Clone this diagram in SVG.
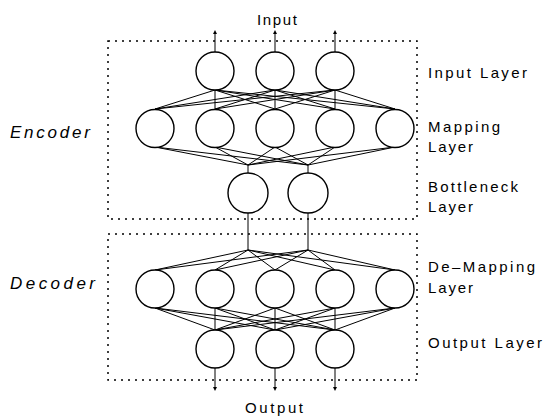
<svg xmlns="http://www.w3.org/2000/svg" width="546" height="416" viewBox="0 0 546 416">
<defs>
<marker id="ah" viewBox="0 0 6 6" refX="3" refY="3" markerWidth="4" markerHeight="4" orient="auto"><path d="M0,0 L6,3 L0,6 z" fill="#000"/></marker>
<style>
.n{fill:#fff;stroke:#000;stroke-width:1.4}
.c{stroke:#000;stroke-width:1;fill:none}
.box{fill:none;stroke:#000;stroke-width:1.5;stroke-dasharray:2 5}
.t{font-family:"Liberation Sans",Arial,sans-serif;font-size:15px;fill:#000}
.side{font-family:"Liberation Sans",Arial,sans-serif;font-size:17px;font-style:italic;fill:#000}
</style>
</defs>
<rect width="546" height="416" fill="#fff"/>
<g id="frames">
<rect class="box" x="108" y="41" width="309" height="178"/>
<rect class="box" x="108" y="234" width="309" height="146"/>
</g>
<g id="connectors">
<line class="c" x1="215" y1="52" x2="215" y2="32" marker-end="url(#ah)"/>
<line class="c" x1="275" y1="52" x2="275" y2="32" marker-end="url(#ah)"/>
<line class="c" x1="335" y1="52" x2="335" y2="32" marker-end="url(#ah)"/>
<path class="c" d="M215,90 L155,109 M215,90 L215,109 M215,90 L275,109 M215,90 L335,109 M215,90 L395,109
M275,90 L155,109 M275,90 L215,109 M275,90 L275,109 M275,90 L335,109 M275,90 L395,109
M335,90 L155,109 M335,90 L215,109 M335,90 L275,109 M335,90 L335,109 M335,90 L395,109"/>
<path class="c" d="M155,147 L248,165 M215,147 L248,165 M275,147 L248,165 M335,147 L248,165 M395,147 L248,165
M155,147 L308,165 M215,147 L308,165 M275,147 L308,165 M335,147 L308,165 M395,147 L308,165
M248,165 L248,173 M308,165 L308,173"/>
<path class="c" d="M248,213 L248,250 M308,213 L308,250
M248,250 L155,270 M248,250 L215,270 M248,250 L275,270 M248,250 L335,270 M248,250 L395,270
M308,250 L155,270 M308,250 L215,270 M308,250 L275,270 M308,250 L335,270 M308,250 L395,270"/>
<path class="c" d="M155,308 L215,330 M155,308 L275,330 M155,308 L335,330
M215,308 L215,330 M215,308 L275,330 M215,308 L335,330
M275,308 L215,330 M275,308 L275,330 M275,308 L335,330
M335,308 L215,330 M335,308 L275,330 M335,308 L335,330
M395,308 L215,330 M395,308 L275,330 M395,308 L335,330"/>
<line class="c" x1="215" y1="368" x2="215" y2="389" marker-end="url(#ah)"/>
<line class="c" x1="275" y1="368" x2="275" y2="389" marker-end="url(#ah)"/>
<line class="c" x1="335" y1="368" x2="335" y2="389" marker-end="url(#ah)"/>
</g>
<g id="input-layer">
<circle class="n" cx="215" cy="71" r="19"/>
<circle class="n" cx="275" cy="71" r="19"/>
<circle class="n" cx="335" cy="71" r="19"/>
</g>
<g id="mapping-layer">
<circle class="n" cx="155" cy="128.5" r="19"/>
<circle class="n" cx="215" cy="128.5" r="19"/>
<circle class="n" cx="275" cy="128.5" r="19"/>
<circle class="n" cx="335" cy="128.5" r="19"/>
<circle class="n" cx="395" cy="128.5" r="19"/>
</g>
<g id="bottleneck-layer">
<circle class="n" cx="248" cy="193" r="20"/>
<circle class="n" cx="308" cy="193" r="20"/>
</g>
<g id="demapping-layer">
<circle class="n" cx="155" cy="289" r="19"/>
<circle class="n" cx="215" cy="289" r="19"/>
<circle class="n" cx="275" cy="289" r="19"/>
<circle class="n" cx="335" cy="289" r="19"/>
<circle class="n" cx="395" cy="289" r="19"/>
</g>
<g id="output-layer">
<circle class="n" cx="215" cy="349" r="19"/>
<circle class="n" cx="275" cy="349" r="19"/>
<circle class="n" cx="335" cy="349" r="19"/>
</g>
<g id="labels">
<text class="t" x="257" y="25" textLength="40" lengthAdjust="spacing">Input</text>
<text class="t" x="245" y="413" textLength="58" lengthAdjust="spacing">Output</text>
<text class="side" x="10" y="138" textLength="80" lengthAdjust="spacing">Encoder</text>
<text class="side" x="10" y="289" textLength="85" lengthAdjust="spacing">Decoder</text>
<text class="t" x="428" y="78" textLength="99" lengthAdjust="spacing">Input Layer</text>
<text class="t" x="428" y="132" textLength="72" lengthAdjust="spacing">Mapping</text>
<text class="t" x="428" y="152" textLength="45" lengthAdjust="spacing">Layer</text>
<text class="t" x="428" y="192" textLength="90" lengthAdjust="spacing">Bottleneck</text>
<text class="t" x="428" y="212" textLength="45" lengthAdjust="spacing">Layer</text>
<text class="t" x="428" y="272" textLength="107" lengthAdjust="spacing">De‒Mapping</text>
<text class="t" x="428" y="293" textLength="45" lengthAdjust="spacing">Layer</text>
<text class="t" x="428" y="348" textLength="114" lengthAdjust="spacing">Output Layer</text>
</g>
</svg>
